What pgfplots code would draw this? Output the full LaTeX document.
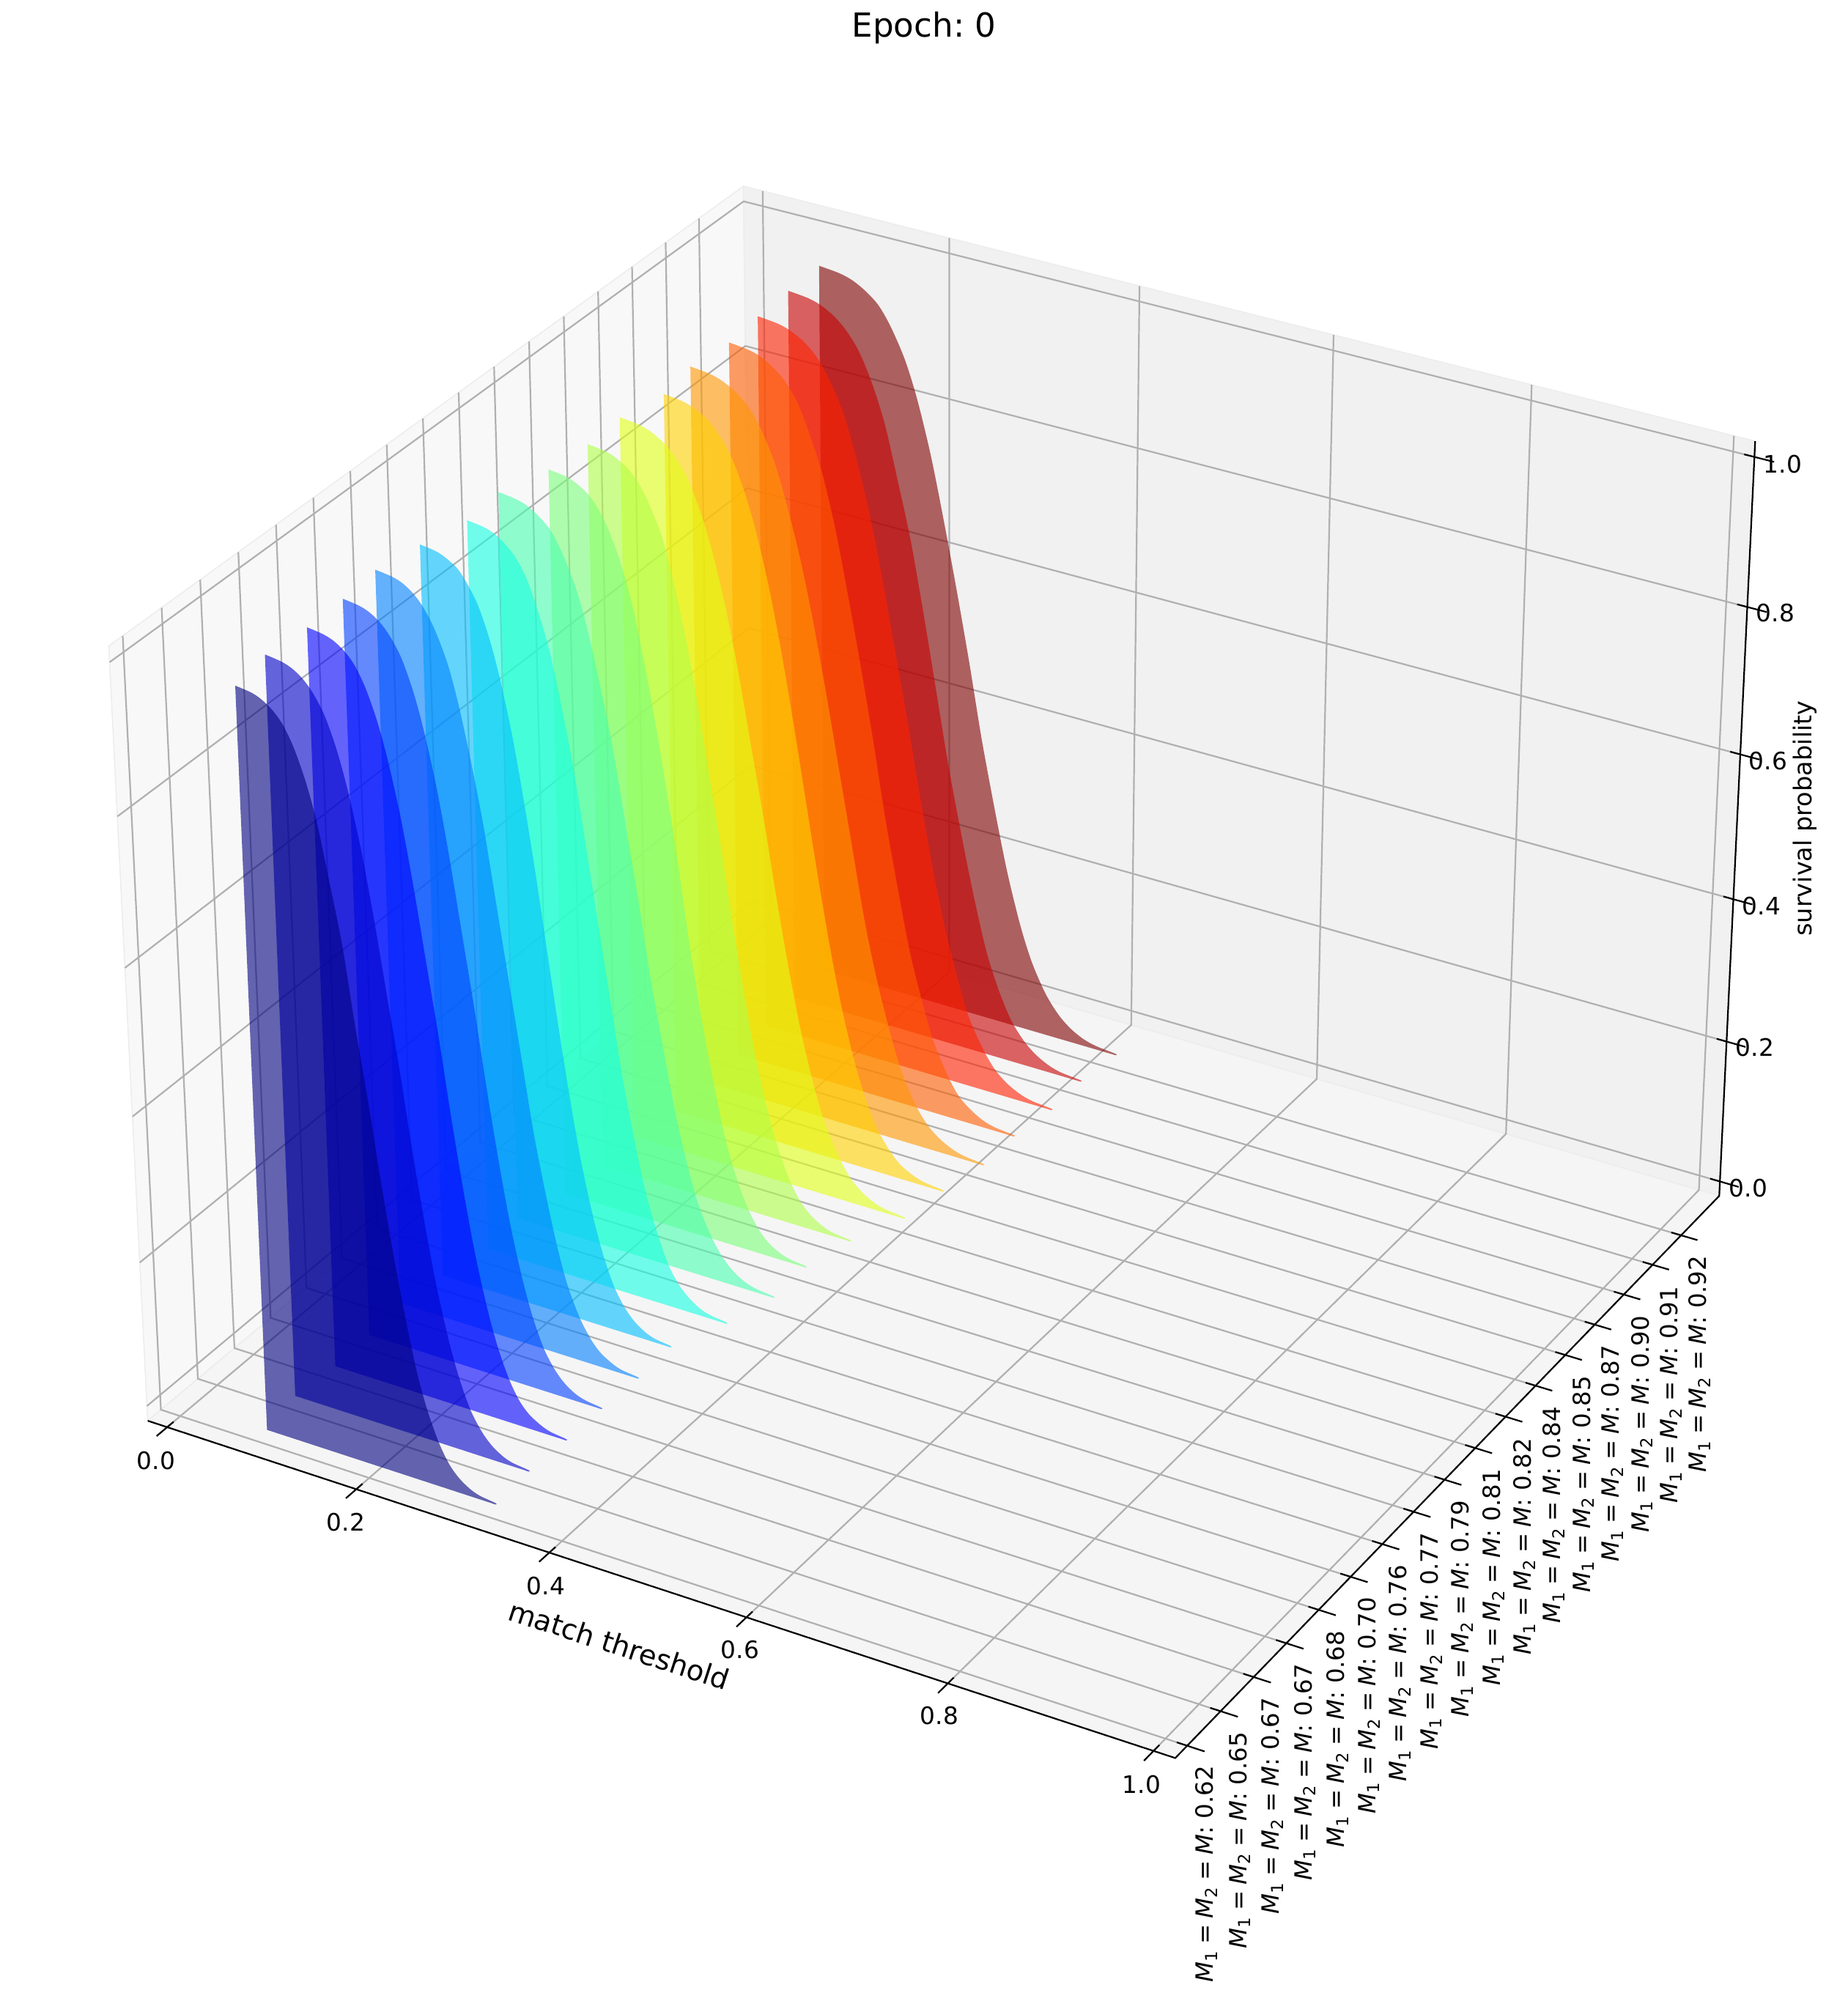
\documentclass[border=0pt]{standalone}
\usepackage{pgfplots}
\usepackage{pgfplotstable}
\usepackage{fontspec}
\pgfplotsset{compat=1.18}
\setmainfont{DejaVu Sans}

% jet colours, one per M value
\definecolor{jet0}{rgb}{0,0,.5}
\definecolor{jet1}{rgb}{0,0,.784}
\definecolor{jet2}{rgb}{0,0,1}
\definecolor{jet3}{rgb}{0,.25,1}
\definecolor{jet4}{rgb}{0,.5,1}
\definecolor{jet5}{rgb}{0,.75,1}
\definecolor{jet6}{rgb}{.081,1,.887}
\definecolor{jet7}{rgb}{.282,1,.685}
\definecolor{jet8}{rgb}{.484,1,.484}
\definecolor{jet9}{rgb}{.685,1,.282}
\definecolor{jet10}{rgb}{.887,1,.081}
\definecolor{jet11}{rgb}{1,.824,0}
\definecolor{jet12}{rgb}{1,.593,0}
\definecolor{jet13}{rgb}{1,.361,0}
\definecolor{jet14}{rgb}{1,.13,0}
\definecolor{jet15}{rgb}{.784,0,0}
\definecolor{jet16}{rgb}{.5,0,0}
\definecolor{gridc}{rgb}{.69,.69,.69}
\definecolor{paneL}{rgb}{.973,.973,.973}
\definecolor{paneB}{rgb}{.945,.945,.945}
\definecolor{paneF}{rgb}{.96,.96,.96}

% match threshold at which each M series reaches the survival level z;
% the z=0 rows at the end run back along the base of the area
\pgfplotstableread{
z a0 a1 a2 a3 a4 a5 a6 a7 a8 a9 a10 a11 a12 a13 a14 a15 a16
.998 .093 .084 .088 .086 .081 .089 .100 .095 .110 .114 .111 .121 .113 .118 .113 .110 .108
.995 .109 .100 .104 .102 .098 .105 .117 .113 .127 .132 .131 .140 .133 .138 .134 .131 .129
.99 .119 .111 .115 .113 .109 .115 .128 .125 .138 .143 .143 .152 .146 .151 .147 .144 .143
.98 .130 .122 .126 .124 .120 .127 .139 .137 .150 .155 .156 .166 .160 .164 .161 .158 .157
.965 .140 .132 .136 .134 .130 .136 .150 .149 .160 .166 .168 .177 .173 .177 .174 .171 .171
.94 .150 .143 .146 .145 .141 .147 .161 .160 .171 .177 .181 .190 .186 .190 .187 .185 .184
.90 .161 .154 .157 .156 .153 .158 .172 .173 .183 .190 .194 .203 .200 .203 .202 .199 .199
.85 .171 .164 .167 .166 .163 .168 .183 .184 .194 .200 .206 .215 .212 .216 .214 .212 .212
.78 .181 .175 .178 .177 .174 .179 .194 .196 .205 .212 .219 .228 .226 .229 .228 .225 .226
.70 .192 .185 .188 .187 .185 .189 .205 .208 .216 .223 .231 .240 .239 .241 .241 .239 .239
.60 .202 .196 .199 .198 .196 .200 .216 .220 .228 .235 .244 .253 .253 .255 .255 .253 .254
.50 .213 .207 .210 .209 .207 .210 .227 .232 .239 .247 .257 .265 .266 .268 .269 .266 .268
.40 .223 .217 .220 .219 .218 .220 .238 .243 .249 .258 .269 .277 .279 .280 .282 .279 .281
.30 .234 .228 .231 .230 .229 .231 .249 .256 .261 .270 .282 .290 .292 .294 .296 .294 .296
.22 .244 .238 .241 .240 .240 .241 .260 .267 .272 .281 .294 .302 .305 .306 .309 .307 .309
.15 .254 .249 .252 .251 .251 .252 .271 .279 .283 .293 .307 .315 .319 .320 .323 .320 .323
.10 .264 .259 .262 .261 .261 .262 .282 .290 .294 .304 .319 .327 .331 .332 .335 .333 .336
.06 .275 .270 .273 .272 .273 .273 .293 .303 .306 .316 .333 .340 .345 .346 .350 .347 .351
.035 .285 .281 .283 .283 .284 .284 .304 .315 .317 .327 .345 .353 .358 .358 .363 .361 .365
.02 .295 .291 .293 .293 .294 .294 .315 .326 .327 .338 .357 .364 .371 .371 .376 .374 .378
.01 .306 .302 .305 .304 .306 .305 .326 .338 .339 .350 .370 .378 .385 .384 .390 .388 .392
.005 .316 .312 .315 .315 .316 .315 .337 .350 .350 .361 .383 .390 .398 .397 .403 .401 .406
.002 .332 .329 .331 .331 .333 .331 .354 .368 .367 .379 .402 .409 .418 .417 .424 .422 .427
0 .332 .329 .331 .331 .333 .331 .354 .368 .367 .379 .402 .409 .418 .417 .424 .422 .427
0 .328 .325 .327 .327 .329 .327 .350 .364 .363 .375 .398 .405 .414 .413 .420 .418 .423
0 .320 .317 .319 .319 .321 .319 .342 .356 .355 .367 .390 .397 .406 .405 .412 .410 .415
0 .302 .299 .301 .301 .303 .301 .324 .338 .337 .349 .372 .379 .388 .387 .394 .392 .397
0 .262 .259 .261 .261 .263 .261 .284 .298 .297 .309 .332 .339 .348 .347 .354 .352 .357
0 .093 .084 .088 .086 .081 .089 .100 .095 .110 .114 .111 .121 .113 .118 .113 .110 .108
}\curves

\newcommand{\tl}{\fontsize{8.2}{9}\selectfont}
\newcommand{\eqsp}{\hspace{.24em}=\hspace{.24em}}
\newcommand{\mlabel}[3]{\node[rotate=90,anchor=base east,inner sep=0pt,font=\fontsize{8.1}{9}\selectfont]
  at (axis cs:#1,#2) {\textit{M}\textsubscript{1}\eqsp\textit{M}\textsubscript{2}\eqsp\textit{M}: #3};}

\begin{document}
\frenchspacing
\begin{tikzpicture}
\useasboundingbox (0,0) rectangle (630.5pt,679pt);
\begin{axis}[
  at={(0,0)}, anchor=south west,
  scale only axis, width=630.5pt, height=679pt,
  xmin=0, xmax=2522, ymin=0, ymax=2716, y dir=reverse,
  hide axis, clip=false,
  % matplotlib view: elev 30, azim -60, dist 10, box 4:4:3, mapped to image pixels
  declare function={
    PD(\p,\q,\r)=10-(.51549*(\p-.5)-.89286*(\q-.5)+.44643*(\r-.5));
    PX(\p,\q,\r)=1294.5+12950*(1.03098*(\p-.5)+.59524*(\q-.5))/PD(\p,\q,\r);
    PY(\p,\q,\r)=1273-12950*(-.29762*(\p-.5)+.51549*(\q-.5)+.77324*(\r-.5))/PD(\p,\q,\r);
  },
  table/proj/.style={row sep=\\,
    x expr={PX(\thisrow{x},\thisrow{t},\thisrow{z})},
    y expr={PY(\thisrow{x},\thisrow{t},\thisrow{z})}},
  gridl/.style={gridc, line width=.55pt, forget plot},
  axl/.style={black, line width=.55pt, forget plot},
  pane/.style={draw=black!7, line width=.4pt, forget plot},
]
% panes
\addplot[pane, fill=paneL] table[proj]
  {x t z\\ -.02083 -.02083 -.02083\\ -.02083 1.02083 -.02083\\ -.02083 1.02083 1.02083\\ -.02083 -.02083 1.02083\\ -.02083 -.02083 -.02083\\};
\addplot[pane, fill=paneB] table[proj]
  {x t z\\ -.02083 1.02083 -.02083\\ 1.02083 1.02083 -.02083\\ 1.02083 1.02083 1.02083\\ -.02083 1.02083 1.02083\\ -.02083 1.02083 -.02083\\};
\addplot[pane, fill=paneF] table[proj]
  {x t z\\ -.02083 -.02083 -.02083\\ 1.02083 -.02083 -.02083\\ 1.02083 1.02083 -.02083\\ -.02083 1.02083 -.02083\\ -.02083 -.02083 -.02083\\};
% grid
\pgfplotsinvokeforeach{0,.2,.4,.6,.8,1}{
  \addplot[gridl] table[proj] {x t z\\ #1 -.02083 -.02083\\ #1 1.02083 -.02083\\ #1 1.02083 1.02083\\};
  \addplot[gridl] table[proj] {x t z\\ -.02083 -.02083 #1\\ -.02083 1.02083 #1\\ 1.02083 1.02083 #1\\};
  \addplot[axl] table[proj] {x t z\\ #1 -.0108 -.02083\\ #1 -.0375 -.02083\\};
  \addplot[axl] table[proj] {x t z\\ 1.0108 1.02083 #1\\ 1.0400 1.02083 #1\\};
}
\pgfplotsinvokeforeach{0,.05882,.11765,.17647,.23529,.29412,.35294,.41176,.47059,.52941,.58824,.64706,.70588,.76471,.82353,.88235,.94118}{
  \addplot[gridl] table[proj] {x t z\\ 1.02083 #1 -.02083\\ -.02083 #1 -.02083\\ -.02083 #1 1.02083\\};
  \addplot[axl] table[proj] {x t z\\ 1.0108 #1 -.02083\\ 1.0375 #1 -.02083\\};
}
% axis lines
\addplot[axl] table[proj] {x t z\\ -.02083 -.02083 -.02083\\ 1.02083 -.02083 -.02083\\ 1.02083 1.02083 -.02083\\ 1.02083 1.02083 1.02083\\};
% survival curves, back to front
\pgfplotsinvokeforeach{16,15,...,0}{
  \addplot[fill=jet#1, fill opacity=.6, draw=none, forget plot, smooth, tension=.5] table[
    x expr={PX(\thisrow{a#1},#1/17,\thisrow{z})},
    y expr={PY(\thisrow{a#1},#1/17,\thisrow{z})}] {\curves};
}
% title and axis labels
\node[anchor=base, font=\fontsize{11.3}{13}\selectfont] at (axis cs:1261,51) {Epoch: 0};
\node[rotate=-18, font=\fontsize{9.6}{12}\selectfont] at (axis cs:845,2245) {match threshold};
\node[rotate=90, font=\fontsize{8.4}{10}\selectfont] at (axis cs:2463,1117) {survival probability};
% x tick labels
\node[font=\tl] at (axis cs:213,1994) {0.0};
\node[font=\tl] at (axis cs:472,2078) {0.2};
\node[font=\tl] at (axis cs:745,2165) {0.4};
\node[font=\tl] at (axis cs:1010,2252) {0.6};
\node[font=\tl] at (axis cs:1282,2342) {0.8};
\node[font=\tl] at (axis cs:1558,2436) {1.0};
% z tick labels
\node[font=\tl] at (axis cs:2386,1622) {0.0};
\node[font=\tl] at (axis cs:2395,1430) {0.2};
\node[font=\tl] at (axis cs:2404,1237) {0.4};
\node[font=\tl] at (axis cs:2413,1039) {0.6};
\node[font=\tl] at (axis cs:2423,837) {0.8};
\node[font=\tl] at (axis cs:2433,634) {1.0};
% M tick labels
\mlabel{1655.5}{2409}{0.62}
\mlabel{1701}{2363}{0.65}
\mlabel{1745.5}{2316}{0.67}
\mlabel{1790}{2270}{0.67}
\mlabel{1834.5}{2225}{0.68}
\mlabel{1877.3}{2179}{0.70}
\mlabel{1919.8}{2135}{0.76}
\mlabel{1962.3}{2091}{0.77}
\mlabel{2004.8}{2047}{0.79}
\mlabel{2047.3}{2004}{0.81}
\mlabel{2089.5}{1962}{0.82}
\mlabel{2129.5}{1919}{0.84}
\mlabel{2170}{1877}{0.85}
\mlabel{2209.5}{1835}{0.87}
\mlabel{2250}{1795}{0.90}
\mlabel{2289.5}{1755}{0.91}
\mlabel{2328.5}{1713}{0.92}
\end{axis}
\end{tikzpicture}
\end{document}
